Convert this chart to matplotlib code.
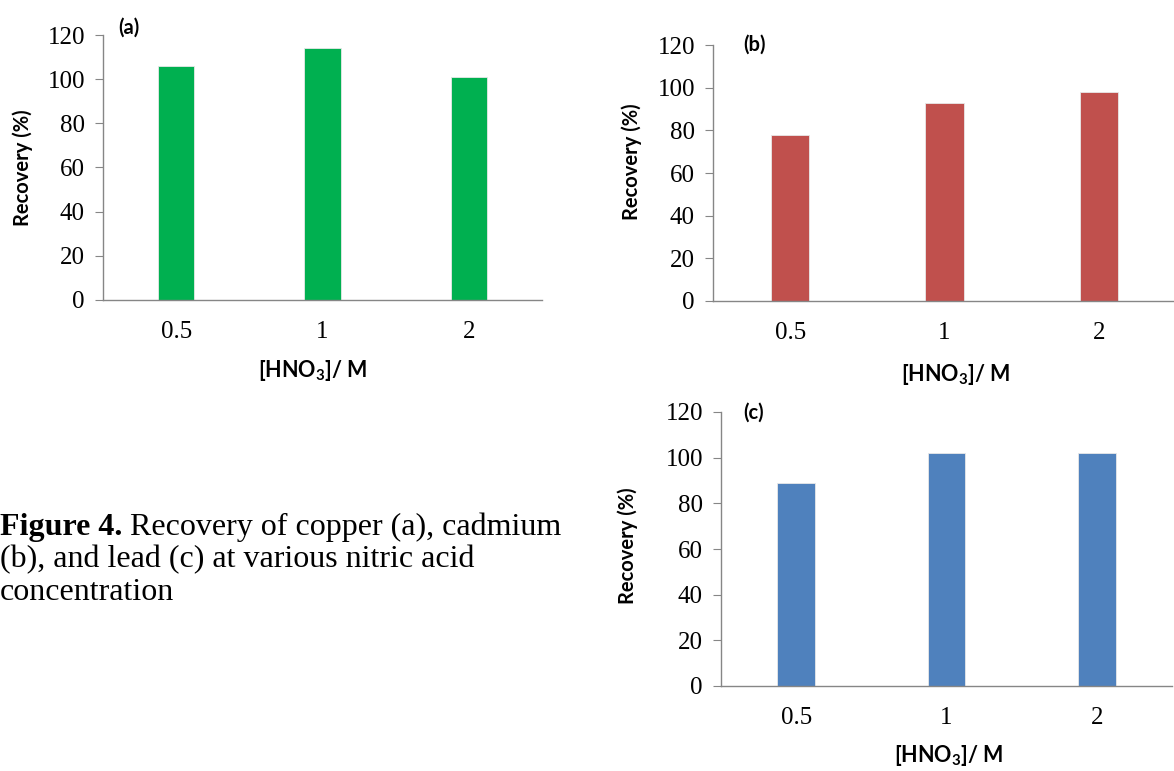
import matplotlib
matplotlib.use("Agg")
import matplotlib.pyplot as plt
import numpy as np

# nitric acid concentrations (M) and recoveries (%)
conc = ["0.5", "1", "2"]
rec_cu = [106, 114, 101]   # (a) copper
rec_cd = [78, 93, 98]      # (b) cadmium
rec_pb = [89, 102, 102]    # (c) lead
yticks = [0, 20, 40, 60, 80, 100, 120]

plt.rcParams["mathtext.fontset"] = "custom"
plt.rcParams["mathtext.rm"] = "Lato:bold"
plt.rcParams["mathtext.bf"] = "Lato:bold"

W, H = 1174, 771
fig = plt.figure(figsize=(W / 100, H / 100), dpi=100)

panels = [
    # values, colour, tag, axes box px (left, right, top, bottom),
    # ylabel (dx, yc) px, tag (x, y) px, xlabel (x, y) px
    (rec_cu, "#00B050", "(a)", (103, 542, 35, 300), (-80, 168), (129, 28), (313, 370)),
    (rec_cd, "#C0504D", "(b)", (713, 1176, 45, 301), (-81, 162), (755, 45), (956, 374)),
    (rec_pb, "#4F81BD", "(c)", (721, 1172, 412, 686), (-93, 546), (754, 413), (949, 756)),
]

grey = "#868686"
for vals, col, tag, box, ylab, tagpos, xlab in panels:
    left, right, top, bottom = box
    ax = fig.add_axes([left / W, 1 - bottom / H, (right - left) / W, (bottom - top) / H])
    x = np.arange(len(conc))
    ax.bar(x, vals, width=0.25, color=col, edgecolor="#e8e8e8", linewidth=0.6)
    ax.set_xlim(-0.5, len(conc) - 0.5)
    ax.set_ylim(0, 120)
    ax.set_yticks(yticks)
    ax.set_xticks(x)
    ax.set_xticklabels(conc)
    for s in ("top", "right"):
        ax.spines[s].set_visible(False)
    for s in ("left", "bottom"):
        ax.spines[s].set_color(grey)
        ax.spines[s].set_linewidth(1.0)
    ax.tick_params(axis="y", direction="out", length=6, color=grey, pad=7)
    ax.tick_params(axis="x", length=0, pad=15)
    for lab in ax.get_xticklabels() + ax.get_yticklabels():
        lab.set_family("Liberation Serif")
        lab.set_fontsize(18)
    ax.set_ylabel("Recovery (%)", family="Lato", fontweight="bold", fontsize=14.5)
    ax.yaxis.set_label_coords(ylab[0] / (right - left), (bottom - ylab[1]) / (bottom - top))
    ax.yaxis.label.set_va("center")
    fig.text(xlab[0] / W, 1 - xlab[1] / H, r"[HNO$_\mathbf{3}$]/ M", family="Lato",
             fontweight="bold", fontsize=15.5, ha="center", va="center")
    fig.text(tagpos[0] / W, 1 - tagpos[1] / H, tag, family="Lato",
             fontweight="bold", fontsize=14.5, ha="center", va="center")

# caption
cap_font = dict(family="Liberation Serif", fontsize=23, va="center")
t1 = fig.text(0.0, 1 - 527 / H, "Figure 4.", fontweight="bold", **cap_font)
fig.canvas.draw()
bb = t1.get_window_extent()
fig.text(bb.x1 / W, 1 - 527 / H, " Recovery of copper (a), cadmium", **cap_font)
fig.text(0.0, 1 - 560 / H, "(b), and lead (c) at various nitric acid", **cap_font)
fig.text(0.0, 1 - 593 / H, "concentration", **cap_font)

fig.savefig("out.png", dpi=100)
